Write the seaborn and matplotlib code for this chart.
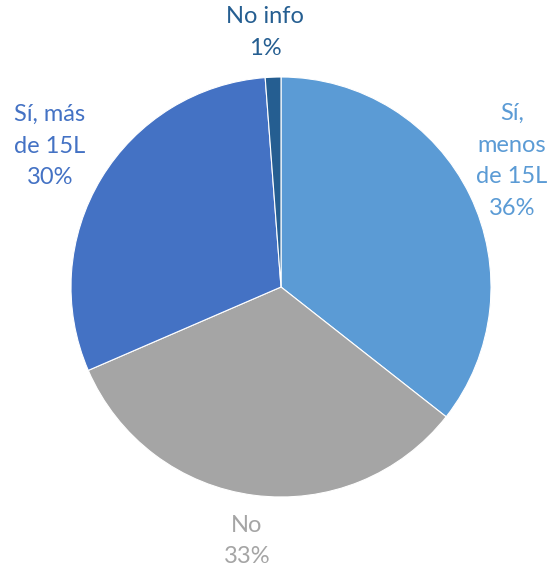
import matplotlib
matplotlib.use("Agg")
import matplotlib.pyplot as plt
import seaborn as sns

categories = ["Sí,\nmenos\nde 15L", "No", "Sí, más\nde 15L", "No info"]
values = [35.6, 32.9, 30.3, 1.2]
colors = ["#5B9BD5", "#A5A5A5", "#4472C4", "#255E91"]

# label centre positions (in pie-radius units) - layout only
label_pos = [(1.10, 0.60), (-0.162, -1.21), (-1.10, 0.671), (-0.076, 1.212)]

sns.set_theme(style="white")
plt.rcParams["font.family"] = ["Lato", "DejaVu Sans"]

fig = plt.figure(figsize=(5.52, 5.71), dpi=100)
ax = fig.add_axes([0, 0, 1, 1])
ax.pie(values, colors=colors, startangle=90, counterclock=False,
       wedgeprops=dict(edgecolor="white", linewidth=0.8))

total = sum(values)
for cat, v, c, (x, y) in zip(categories, values, colors, label_pos):
    ax.text(x, y, f"{cat}\n{round(v / total * 100):d}%", color=c,
            ha="center", va="center", fontsize=17, linespacing=1.62)

R = 210.0
cx, cy = 281.0, 287.0
ax.set_xlim(-cx / R, (552 - cx) / R)
ax.set_ylim(-(571 - cy) / R, cy / R)
ax.set_aspect("auto")
ax.axis("off")
fig.savefig("out.png", dpi=100, facecolor="white")
